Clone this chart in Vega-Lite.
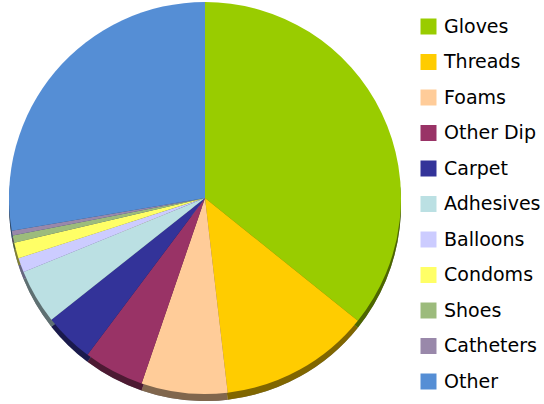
{
  "$schema": "https://vega.github.io/schema/vega-lite/v6.json",
  "width": 410,
  "height": 396,
  "padding": 0,
  "background": "white",
  "data": {
    "values": [
      {"category": "Gloves", "share": 35.8, "idx": 1},
      {"category": "Threads", "share": 12.4, "idx": 2},
      {"category": "Foams", "share": 7.1, "idx": 3},
      {"category": "Other Dip", "share": 5.0, "idx": 4},
      {"category": "Carpet", "share": 4.1, "idx": 5},
      {"category": "Adhesives", "share": 4.5, "idx": 6},
      {"category": "Balloons", "share": 1.2, "idx": 7},
      {"category": "Condoms", "share": 1.3, "idx": 8},
      {"category": "Shoes", "share": 0.6, "idx": 9},
      {"category": "Catheters", "share": 0.4, "idx": 10},
      {"category": "Other", "share": 27.7, "idx": 11}
    ]
  },
  "encoding": {
    "theta": {"field": "share", "type": "quantitative", "stack": true},
    "order": {"field": "idx", "type": "quantitative"},
    "color": {
      "field": "category",
      "type": "nominal",
      "scale": {
        "domain": ["Gloves", "Threads", "Foams", "Other Dip", "Carpet", "Adhesives", "Balloons", "Condoms", "Shoes", "Catheters", "Other"],
        "range": ["#99CC00", "#FFCC00", "#FFCC99", "#993366", "#333399", "#BBE0E3", "#CCCCFF", "#FFFF66", "#9CBB7C", "#9988AA", "#558ED5"]
      },
      "legend": {
        "title": null,
        "orient": "none",
        "legendX": 419,
        "legendY": 17,
        "symbolType": "square",
        "symbolSize": 256,
        "symbolStrokeWidth": 0,
        "symbolOpacity": 1,
        "labelFont": "DejaVu Sans",
        "labelFontSize": 19,
        "labelColor": "black",
        "labelOffset": 6,
        "rowPadding": 15.5
      }
    }
  },
  "layer": [
    {"mark": {"type": "arc", "radius": 196, "yOffset": 7, "fill": "black", "stroke": null}, "encoding": {"color": {"value": "black"}}},
    {"mark": {"type": "arc", "radius": 196, "yOffset": 7, "opacity": 0.5, "stroke": null}},
    {"mark": {"type": "arc", "radius": 196, "stroke": null}}
  ]
}
